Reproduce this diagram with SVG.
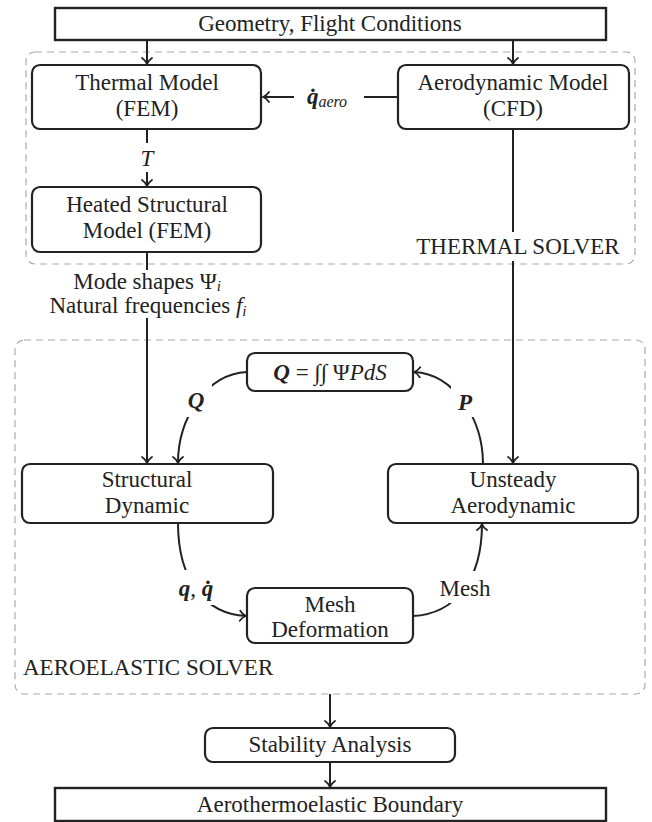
<svg xmlns="http://www.w3.org/2000/svg" width="652" height="822" viewBox="0 0 652 822" font-family="'Liberation Serif','Times New Roman',serif">
<style>
.box{fill:#fff;stroke:#222;stroke-width:2.2}
.sq{fill:#fff;stroke:#222;stroke-width:2.4}
.dash{fill:none;stroke:#aaa;stroke-width:1.2;stroke-dasharray:7 5}
.ln{fill:none;stroke:#222;stroke-width:2}
.arr{marker-end:url(#ah)}
.bg{fill:#fff;stroke:none}
text{font-family:"Liberation Serif","Times New Roman",serif;font-size:23px;fill:#222;text-anchor:middle}
.l{text-anchor:start}
.bi{font-weight:bold;font-style:italic}
.it{font-style:italic}
</style>
<defs>
<marker id="ah" markerUnits="userSpaceOnUse" viewBox="-8 -7 10 14" refX="0" refY="0" markerWidth="10" markerHeight="14" orient="auto">
<path d="M-6,-5 C-4,-2 -1.5,-0.5 0,0 C-1.5,0.5 -4,2 -6,5" fill="none" stroke="#222" stroke-width="1.8" stroke-linecap="round"/>
</marker>
</defs>

<g id="thermal-solver">
<rect class="dash" x="26" y="52" width="609" height="212" rx="9"/>
</g>
<g id="aeroelastic-solver">
<rect class="dash" x="15" y="340" width="630" height="354" rx="9"/>
</g>

<g id="connectors">
<line class="ln arr" x1="147" y1="40" x2="147" y2="64"/>
<line class="ln arr" x1="513" y1="40" x2="513" y2="64"/>
<line class="ln arr" x1="398" y1="97" x2="263" y2="97"/>
<line class="ln arr" x1="147" y1="129" x2="147" y2="186"/>
<line class="ln arr" x1="147" y1="252" x2="147" y2="463"/>
<line class="ln arr" x1="513" y1="129" x2="513" y2="463"/>
<path class="ln arr" d="M247,372 C205,374 178,420 178,463"/>
<path class="ln arr" d="M483,464 C483,420 455,374 414,372"/>
<path class="ln arr" d="M178,523 C178,580 205,614 246,616"/>
<path class="ln arr" d="M413,616 C455,614 482,580 482,524"/>
<line class="ln arr" x1="330" y1="694" x2="330" y2="727"/>
<line class="ln arr" x1="330" y1="762" x2="330" y2="787"/>
</g>

<g id="connector-labels">
<rect class="bg" x="294" y="84" width="70" height="28"/>
<text x="327" y="104"><tspan class="bi">q̇</tspan><tspan class="it" font-size="16" dy="3">aero</tspan></text>
<rect class="bg" x="137" y="143" width="20" height="29"/>
<text class="it" x="147" y="166">T</text>
<rect class="bg" x="38" y="270" width="220" height="48"/>
<text x="147" y="289">Mode shapes Ψ<tspan class="it" font-size="15" dy="2">i</tspan></text>
<text x="148" y="313">Natural frequencies <tspan class="it">f</tspan><tspan class="it" font-size="15" dy="3">i</tspan></text>
<rect class="bg" x="414" y="232" width="210" height="29"/>
<text x="518" y="254">THERMAL SOLVER</text>
<rect class="bg" x="182" y="384" width="30" height="33"/>
<text class="bi" x="196" y="408">Q</text>
<rect class="bg" x="451" y="386" width="28" height="31"/>
<text class="bi" x="465" y="410">P</text>
<rect class="bg" x="176" y="570" width="40" height="35"/>
<text x="196" y="596"><tspan class="bi">q</tspan>, <tspan class="bi">q̇</tspan></text>
<rect class="bg" x="438" y="571" width="54" height="32"/>
<text x="465" y="596">Mesh</text>
<text class="l" x="23" y="675">AEROELASTIC SOLVER</text>
</g>

<g id="geometry">
<rect class="sq" x="55" y="8" width="551" height="32"/>
<text x="330" y="31">Geometry, Flight Conditions</text>
</g>
<g id="thermal-model">
<rect class="box" x="32" y="65" width="229" height="64" rx="8"/>
<text x="147" y="90">Thermal Model</text>
<text x="147" y="116">(FEM)</text>
</g>
<g id="aerodynamic-model">
<rect class="box" x="398" y="65" width="231" height="64" rx="8"/>
<text x="513" y="90">Aerodynamic Model</text>
<text x="513" y="116">(CFD)</text>
</g>
<g id="heated-structural-model">
<rect class="box" x="32" y="187" width="229" height="65" rx="8"/>
<text x="147" y="212">Heated Structural</text>
<text x="147" y="238">Model (FEM)</text>
</g>
<g id="generalized-force">
<rect class="box" x="247" y="353" width="166" height="38" rx="8"/>
<text x="330" y="380"><tspan class="bi">Q</tspan> = ∫∫ Ψ<tspan class="it">PdS</tspan></text>
</g>
<g id="structural-dynamic">
<rect class="box" x="22" y="464" width="251" height="59" rx="8"/>
<text x="147" y="487">Structural</text>
<text x="147" y="513">Dynamic</text>
</g>
<g id="unsteady-aerodynamic">
<rect class="box" x="388" y="464" width="250" height="59" rx="8"/>
<text x="513" y="487">Unsteady</text>
<text x="513" y="513">Aerodynamic</text>
</g>
<g id="mesh-deformation">
<rect class="box" x="247" y="588" width="166" height="55" rx="8"/>
<text x="330" y="612">Mesh</text>
<text x="330" y="637">Deformation</text>
</g>
<g id="stability-analysis">
<rect class="box" x="205" y="728" width="250" height="34" rx="8"/>
<text x="330" y="752">Stability Analysis</text>
</g>
<g id="boundary">
<rect class="sq" x="55" y="788" width="551" height="33"/>
<text x="330" y="812">Aerothermoelastic Boundary</text>
</g>
</svg>
